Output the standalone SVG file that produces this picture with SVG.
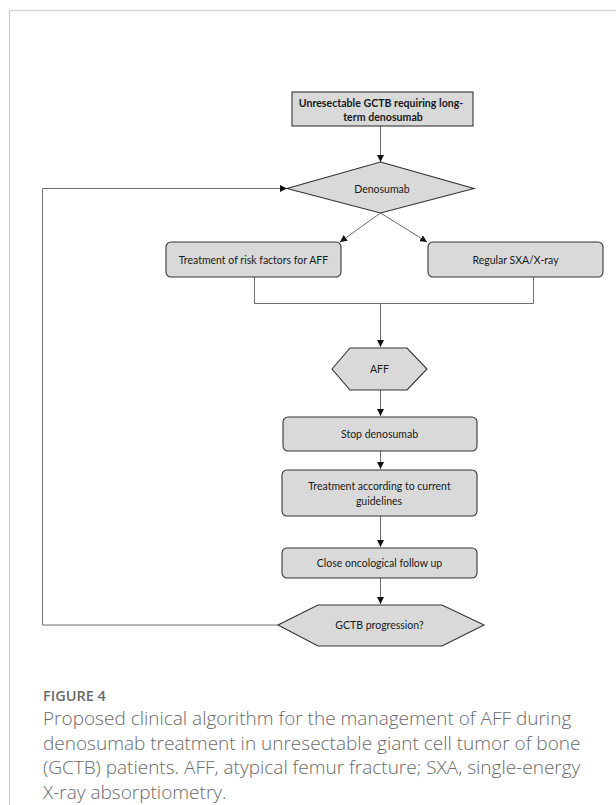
<svg xmlns="http://www.w3.org/2000/svg" width="616" height="805" viewBox="0 0 616 805">
<style>
.box{fill:#d9d9d9;stroke:#333;stroke-width:1.1}
.conn{fill:none;stroke:#6e6e6e;stroke-width:1}
.t{font-family:Lato,"Open Sans","Liberation Sans",sans-serif;font-size:10.5px;fill:#1a1a1a;text-anchor:middle}
.tb{font-weight:bold;font-size:10.6px}
.cap{font-family:"Open Sans","Liberation Sans",sans-serif;font-size:19px;fill:#6a6a6a;font-weight:300}
.fig{font-family:"Open Sans","Liberation Sans",sans-serif;font-size:14.5px;fill:#6a6a6a;font-weight:600}
</style>
<defs>
<marker id="ah" viewBox="0 0 10 10" refX="10" refY="5" markerWidth="7" markerHeight="7" markerUnits="userSpaceOnUse" orient="auto"><path d="M0,0 L10,5 L0,10 z" fill="#111"/></marker>
</defs>
<rect width="616" height="805" fill="#fff"/>
<g id="frame">
<line x1="9" y1="10.5" x2="616" y2="10.5" stroke="#d6d6d6" stroke-width="1.5"/>
<line x1="9.5" y1="10" x2="9.5" y2="805" stroke="#cccccc" stroke-width="1"/>
</g>
<g id="connectors">
<line class="conn" x1="380.5" y1="126" x2="380.5" y2="162" marker-end="url(#ah)"/>
<polyline class="conn" points="278,625 42.5,625 42.5,188.5 287,188.5" marker-end="url(#ah)"/>
<line class="conn" x1="380.5" y1="213" x2="340" y2="242" marker-end="url(#ah)"/>
<line class="conn" x1="380.5" y1="213" x2="427" y2="242" marker-end="url(#ah)"/>
<polyline class="conn" points="254.5,277 254.5,303.5 533.5,303.5 533.5,277"/>
<line class="conn" x1="380.5" y1="303.5" x2="380.5" y2="347" marker-end="url(#ah)"/>
<line class="conn" x1="380.5" y1="390" x2="380.5" y2="416" marker-end="url(#ah)"/>
<line class="conn" x1="380.5" y1="451" x2="380.5" y2="469" marker-end="url(#ah)"/>
<line class="conn" x1="380.5" y1="516" x2="380.5" y2="547" marker-end="url(#ah)"/>
<line class="conn" x1="380.5" y1="578" x2="380.5" y2="604" marker-end="url(#ah)"/>
</g>
<g id="start">
<rect class="box" x="292" y="92" width="181" height="34"/>
<text class="t tb" x="381" y="106.5">Unresectable GCTB requiring long-</text>
<text class="t tb" x="383" y="120.5">term denosumab</text>
</g>
<g id="denosumab">
<polygon class="box" points="380.5,162 474,188.5 380.5,213 287,188.5"/>
<text class="t" x="382" y="192.5">Denosumab</text>
</g>
<g id="riskfactors">
<rect class="box" x="166" y="242" width="175" height="35" rx="5"/>
<text class="t" x="253.5" y="263.5">Treatment of risk factors for AFF</text>
</g>
<g id="sxa">
<rect class="box" x="428" y="242" width="175" height="35" rx="5"/>
<text class="t" x="515.5" y="263.5">Regular SXA/X-ray</text>
</g>
<g id="aff">
<polygon class="box" points="332,369 350,348 407,348 427,369 407,390 350,390"/>
<text class="t" x="379.5" y="373">AFF</text>
</g>
<g id="stop">
<rect class="box" x="283" y="417" width="194" height="34" rx="5"/>
<text class="t" x="379.5" y="438">Stop denosumab</text>
</g>
<g id="guidelines">
<rect class="box" x="282" y="470" width="195" height="46" rx="5"/>
<text class="t" x="379.5" y="490">Treatment according to current</text>
<text class="t" x="379" y="504.5">guidelines</text>
</g>
<g id="followup">
<rect class="box" x="282" y="548" width="195" height="30" rx="5"/>
<text class="t" x="379.5" y="567">Close oncological follow up</text>
</g>
<g id="progression">
<polygon class="box" points="278,625 318,605 442,605 484,625 442,646 318,646"/>
<text class="t" x="379.5" y="629">GCTB progression?</text>
</g>
<g id="caption">
<text class="fig" x="43" y="701">FIGURE 4</text>
<text class="cap" x="43" y="725">Proposed clinical algorithm for the management of AFF during</text>
<text class="cap" x="43" y="749.5">denosumab treatment in unresectable giant cell tumor of bone</text>
<text class="cap" x="43" y="774">(GCTB) patients. AFF, atypical femur fracture; SXA, single-energy</text>
<text class="cap" x="43" y="798.5">X-ray absorptiometry.</text>
</g>
</svg>
